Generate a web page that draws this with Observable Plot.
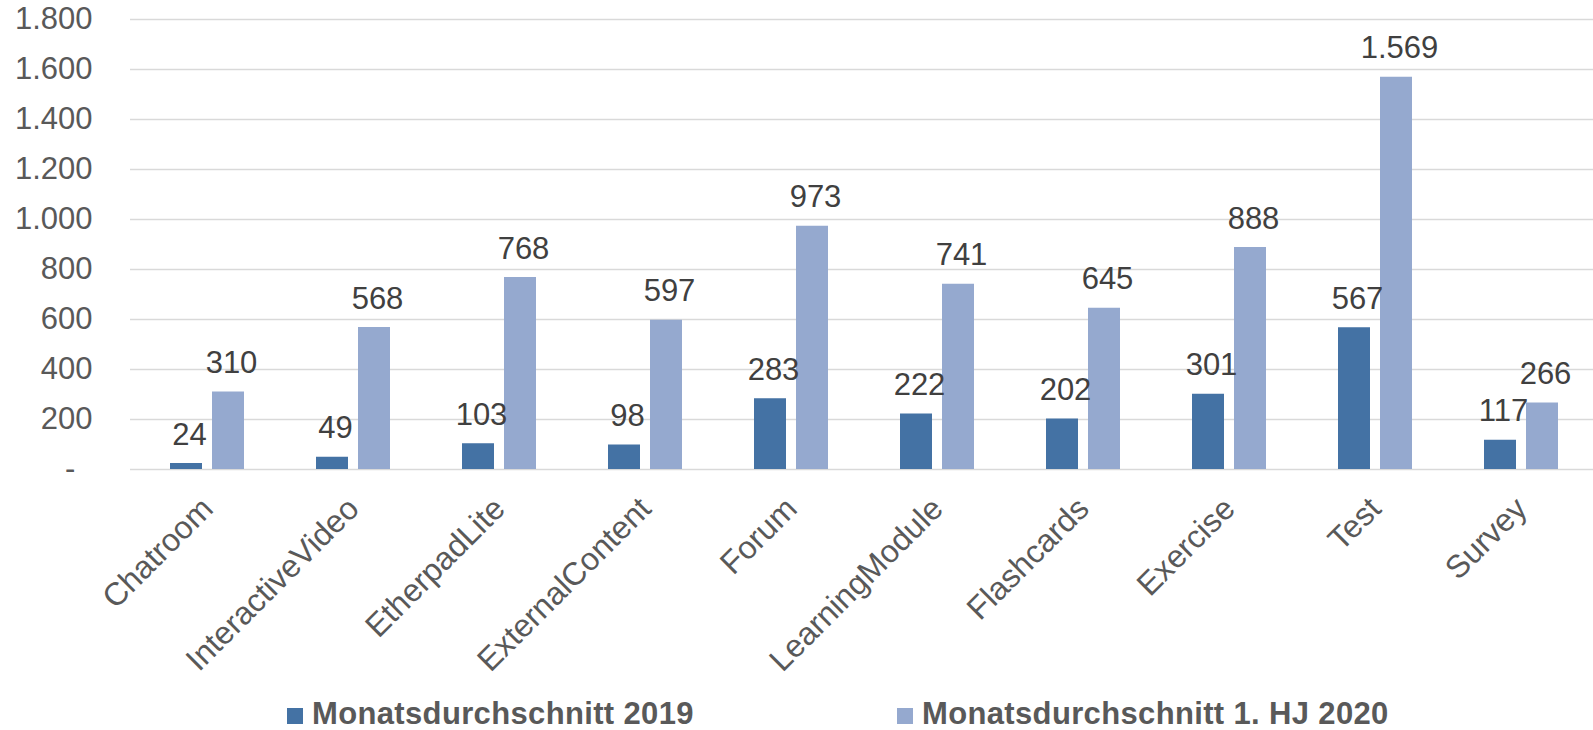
<!DOCTYPE html>
<html><head><meta charset="utf-8">
<script src="https://cdn.jsdelivr.net/npm/d3@7"></script>
<script src="https://cdn.jsdelivr.net/npm/@observablehq/plot@0.6"></script>
<style>
body{margin:0;background:#fff;font-family:"Liberation Sans",Arial,sans-serif;}
#legend{position:relative;height:40px;width:1593px;}
.item{position:absolute;top:8px;height:31px;line-height:31px;display:flex;align-items:flex-start;font-weight:bold;font-size:31px;letter-spacing:0.35px;color:#595959;white-space:nowrap;}
.sw{width:16px;height:16px;margin-right:9px;margin-top:10px;}
</style></head><body>
<div id="chart"></div>
<div id="legend"></div>
<script>
const categories = ["Chatroom","InteractiveVideo","EtherpadLite","ExternalContent","Forum","LearningModule","Flashcards","Exercise","Test","Survey"];
const values2019 = [24,49,103,98,283,222,202,301,567,117];
const values2020 = [310,568,768,597,973,741,645,888,1569,266];
const seriesNames = ["Monatsdurchschnitt 2019","Monatsdurchschnitt 1. HJ 2020"];
const seriesColors = ["#4472a4","#95a9cf"];
const yTicks = [0,200,400,600,800,1000,1200,1400,1600,1800];

const fmt = v => v === 0 ? "-\u2007" : d3.format(",")(v).replace(/,/g, ".");
const data2019 = categories.map((c, i) => ({cat: c, v: values2019[i]}));
const data2020 = categories.map((c, i) => ({cat: c, v: values2020[i]}));
const font = "'Liberation Sans', Arial, sans-serif";

const chart = Plot.plot({
  width: 1593, height: 690,
  marginLeft: 130, marginRight: -4, marginTop: 19, marginBottom: 221,
  style: {fontFamily: font, background: "#fff", color: "#595959", overflow: "visible"},
  x: {domain: categories, padding: 0, axis: null},
  y: {domain: [0, 1800], axis: null},
  marks: [
    Plot.ruleY(yTicks, {stroke: "#d9d9d9", strokeWidth: 1.3}),
    Plot.barY(data2019, {x: "cat", y: "v", fill: seriesColors[0], insetLeft: 36, insetRight: 78}),
    Plot.barY(data2020, {x: "cat", y: "v", fill: seriesColors[1], insetLeft: 78, insetRight: 36}),
    Plot.text(data2019, {x: "cat", y: "v", text: d => fmt(d.v), dx: -18, dy: -19, lineAnchor: "bottom", fill: "#404040", fontSize: 31}),
    Plot.text(data2020, {x: "cat", y: "v", text: d => fmt(d.v), dx: 24, dy: -19, lineAnchor: "bottom", fill: "#404040", fontSize: 31}),
    Plot.axisY({ticks: yTicks, tickSize: 0, tickPadding: 38, tickFormat: fmt, fontSize: 31, fill: "#595959", label: null}),
    Plot.axisX({tickSize: 0, tickRotate: -45, tickPadding: 34, textAnchor: "end", lineAnchor: "middle", dx: 0, fontSize: 32, fill: "#595959", label: null})
  ]
});
document.getElementById("chart").appendChild(chart);

const legend = document.getElementById("legend");
const lefts = [287, 897];
seriesNames.forEach((name, i) => {
  const item = document.createElement("div");
  item.className = "item";
  item.style.left = lefts[i] + "px";
  const sw = document.createElement("span");
  sw.className = "sw";
  sw.style.background = seriesColors[i];
  const t = document.createElement("span");
  t.textContent = name;
  item.appendChild(sw);
  item.appendChild(t);
  legend.appendChild(item);
});
</script>
</body></html>
